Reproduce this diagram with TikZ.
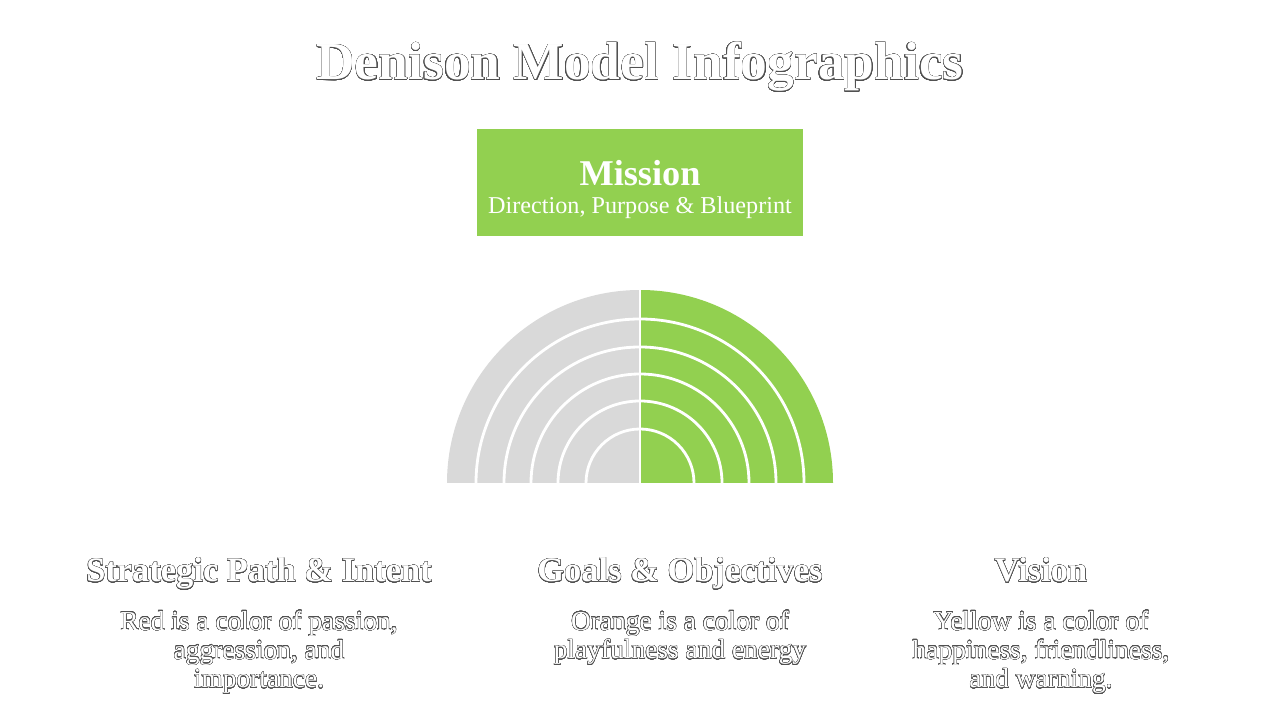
\documentclass[tikz,border=0pt]{standalone}
\usepackage{fontspec}
\setmainfont{Liberation Serif}
\usepackage{contour}
\contourlength{0.22pt}
\contournumber{32}
\definecolor{missiongreen}{HTML}{92D050}
\definecolor{ringgray}{HTML}{D9D9D9}
\definecolor{outlinegray}{HTML}{505050}
\newcommand{\outl}[1]{\contour{outlinegray}{#1}}

\begin{document}
\begin{tikzpicture}[x=0.025cm, y=0.025cm,
  outlined/.style={text=white, align=center, inner sep=0pt, anchor=base},
  head/.style={outlined, font=\fontsize{24.5}{28}\selectfont\bfseries},
  body/.style={outlined, font=\fontsize{19.5}{20.6}\selectfont},
  ring/.style={white, line width=2pt}]
\useasboundingbox (0,0) rectangle (1280,720);

% Title
\node[outlined, font=\fontsize{38}{42}\selectfont\bfseries] (title) at (640,640) {\outl{Denison Model Infographics}};

% Mission box
\node[fill=missiongreen, minimum width=8.15cm, minimum height=2.675cm, inner sep=0pt] (mission) at (640,537.5) {};
\node[anchor=base, text=white, inner sep=0pt, font=\fontsize{25.8}{28}\selectfont\bfseries] (missionname) at (640,534) {Mission};
\node[anchor=base, text=white, inner sep=0pt, font=\fontsize{17.2}{19}\selectfont] (missiontext) at (640,506) {Direction, Purpose \& Blueprint};

% Half rings
\coordinate (ctr) at (640,237);
\fill[ringgray] (ctr) -- ++(180:193) arc[start angle=180, end angle=90, radius=193] -- cycle;
\fill[missiongreen] (ctr) -- ++(90:193) arc[start angle=90, end angle=0, radius=193] -- cycle;
\foreach \r in {54,82,109,136,164} {
  \draw[ring] (ctr) ++(180:\r) arc[start angle=180, end angle=0, radius=\r];
}
\draw[ring] (ctr) -- ++(90:195);

% Bottom columns (base = last line)
\node[head] (strategy) at (259,138) {\outl{Strategic Path \& Intent}};
\node[body] (strategytext) at (259,32) {\outl{Red is a color of passion,}\\\outl{aggression, and}\\\outl{importance.}};

\node[head] (goals) at (680,138) {\outl{Goals \& Objectives}};
\node[body] (goalstext) at (680,61) {\outl{Orange is a color of}\\\outl{playfulness and energy}};

\node[head] (vision) at (1041,138) {\outl{Vision}};
\node[body] (visiontext) at (1041,32) {\outl{Yellow is a color of}\\\outl{happiness, friendliness,}\\\outl{and warning.}};
\end{tikzpicture}
\end{document}
